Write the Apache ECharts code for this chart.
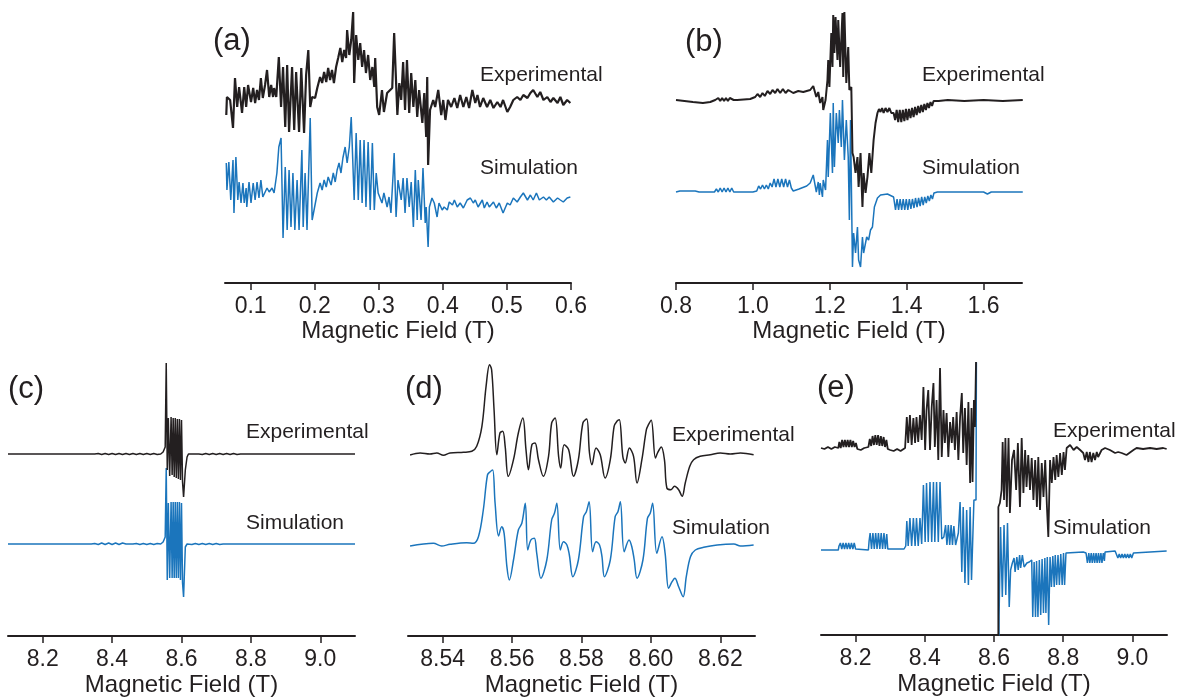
<!DOCTYPE html>
<html>
<head>
<meta charset="utf-8">
<title>EPR spectra</title>
<script src="https://cdn.jsdelivr.net/npm/echarts@6/dist/echarts.min.js"></script>
<style>
  html, body { margin: 0; padding: 0; background: #fff; }
  #chart { width: 1180px; height: 700px; }
</style>
</head>
<body>
<div id="chart"></div>
<script>
// field in T, intensity in a.u. relative to each trace's own baseline

// (a) 0.06 - 0.6 T
var expA = [[0.062,-12],[0.063,6],[0.068,3],[0.0725,-25],[0.0756,25],[0.079,-4],[0.082,16],[0.0866,-10],[0.090,16],[0.093,-4],[0.096,18],[0.1006,1],[0.104,15],[0.107,0],[0.110,13],[0.113,3],[0.116,25],[0.119,5],[0.1225,18],[0.1256,33],[0.129,6],[0.132,18],[0.135,6],[0.1366,15],[0.140,6],[0.144,46],[0.1475,-4],[0.1506,36],[0.154,-24],[0.157,38],[0.160,-29],[0.1647,36],[0.168,-27],[0.171,31],[0.1756,-29],[0.179,35],[0.1834,-30],[0.1866,28],[0.190,53],[0.193,-4],[0.196,6],[0.2006,5],[0.204,15],[0.2084,26],[0.2116,20],[0.2147,31],[0.218,21],[0.221,35],[0.224,23],[0.227,33],[0.230,20],[0.2334,36],[0.2366,45],[0.240,55],[0.243,41],[0.246,53],[0.249,45],[0.2506,73],[0.254,48],[0.257,63],[0.260,91],[0.2616,20],[0.2647,68],[0.268,43],[0.271,60],[0.274,36],[0.277,53],[0.280,30],[0.2834,48],[0.2866,23],[0.290,36],[0.293,16],[0.2944,45],[0.2975,-4],[0.3006,-12],[0.305,13],[0.308,-9],[0.313,10],[0.316,8],[0.321,15],[0.324,70],[0.329,-12],[0.332,20],[0.335,3],[0.338,41],[0.341,-7],[0.344,43],[0.3475,-10],[0.3506,30],[0.354,-4],[0.357,23],[0.360,-14],[0.363,13],[0.368,-20],[0.371,10],[0.374,-34],[0.3756,26],[0.377,-62],[0.380,-7],[0.385,3],[0.388,-4],[0.3928,13],[0.3975,-12],[0.4006,3],[0.404,-17],[0.408,3],[0.413,-4],[0.418,5],[0.4225,-5],[0.427,8],[0.432,-4],[0.4366,6],[0.441,-5],[0.446,13],[0.4506,0],[0.454,8],[0.458,-4],[0.463,5],[0.469,-4],[0.474,3],[0.479,-5],[0.485,1],[0.490,-4],[0.494,3],[0.5006,-9],[0.505,-4],[0.510,3],[0.516,6],[0.521,3],[0.5256,8],[0.532,5],[0.5366,10],[0.541,13],[0.5475,6],[0.552,11],[0.557,3],[0.563,6],[0.568,1],[0.5725,5],[0.579,0],[0.5834,6],[0.588,-2],[0.594,3],[0.599,0]];
var simA = [[0.062,35],[0.063,8],[0.066,36],[0.069,-2],[0.0725,38],[0.074,-15],[0.077,41],[0.080,-2],[0.082,16],[0.085,-5],[0.088,15],[0.090,-5],[0.093,10],[0.094,-9],[0.0975,16],[0.1006,-5],[0.104,15],[0.107,-2],[0.110,16],[0.113,0],[0.116,18],[0.119,1],[0.1256,10],[0.129,6],[0.1334,10],[0.1366,5],[0.141,25],[0.144,51],[0.1475,60],[0.1506,-40],[0.154,31],[0.157,-32],[0.160,28],[0.163,-29],[0.166,25],[0.169,-32],[0.1725,18],[0.1756,-32],[0.180,48],[0.182,-29],[0.185,25],[0.188,-32],[0.193,80],[0.196,-22],[0.199,-12],[0.204,5],[0.2084,15],[0.2116,8],[0.2147,18],[0.218,11],[0.221,21],[0.2256,13],[0.229,25],[0.232,16],[0.235,28],[0.238,35],[0.241,25],[0.244,40],[0.2475,51],[0.2506,35],[0.254,51],[0.257,81],[0.258,83],[0.2616,-2],[0.2647,65],[0.268,-2],[0.271,58],[0.274,-5],[0.277,58],[0.280,-9],[0.2834,56],[0.2866,-12],[0.290,55],[0.293,-12],[0.296,25],[0.299,5],[0.302,6],[0.305,-5],[0.308,5],[0.313,-9],[0.316,1],[0.319,-15],[0.3225,25],[0.324,45],[0.327,-19],[0.330,18],[0.335,-2],[0.338,20],[0.341,-15],[0.344,20],[0.3475,-9],[0.3506,16],[0.354,-29],[0.357,28],[0.360,-22],[0.3616,18],[0.366,-22],[0.369,30],[0.3725,-25],[0.374,-9],[0.377,-49],[0.379,-9],[0.383,0],[0.3866,-5],[0.391,-19],[0.394,-5],[0.399,-12],[0.402,-9],[0.407,-12],[0.410,-4],[0.415,-7],[0.418,-2],[0.4225,-9],[0.427,-5],[0.432,-10],[0.438,-2],[0.443,0],[0.4475,-5],[0.4506,-2],[0.455,-9],[0.4616,-2],[0.4647,-10],[0.469,-4],[0.4725,-9],[0.479,-4],[0.4834,-10],[0.488,-5],[0.494,-15],[0.5006,-5],[0.505,-7],[0.510,0],[0.516,-4],[0.521,1],[0.5256,5],[0.532,-2],[0.5366,3],[0.541,-2],[0.546,5],[0.5506,-2],[0.557,1],[0.5616,-2],[0.566,1],[0.5725,-4],[0.579,0],[0.5834,-2],[0.588,-4],[0.594,0],[0.599,1]];
var ticksA = [0.1, 0.2, 0.3, 0.4, 0.5, 0.6];

// (b) 0.8 - 1.7 T
var expB = [[0.800,0],[0.844,-2],[0.870,-3],[0.889,-2],[0.902,0],[0.910,2],[0.915,-1],[0.920,2],[0.925,-1],[0.930,2],[0.935,-1],[0.940,2],[0.950,0],[0.959,0],[0.993,1],[1.006,3],[1.012,6],[1.019,3],[1.025,7],[1.031,4],[1.038,9],[1.045,6],[1.051,10],[1.058,7],[1.064,11],[1.071,7],[1.078,11],[1.085,7],[1.092,10],[1.105,7],[1.118,9],[1.131,8],[1.149,10],[1.157,14],[1.165,3],[1.170,8],[1.175,-3],[1.181,3],[1.183,-10],[1.189,0],[1.194,20],[1.196,40],[1.199,13],[1.204,67],[1.207,33],[1.209,85],[1.212,47],[1.215,83],[1.220,40],[1.222,80],[1.227,33],[1.233,87],[1.235,23],[1.238,88],[1.243,17],[1.248,53],[1.251,10],[1.256,13],[1.259,-53],[1.262,-57],[1.267,-73],[1.272,-57],[1.275,-87],[1.280,-53],[1.285,-107],[1.288,-73],[1.293,-93],[1.298,-77],[1.303,-53],[1.308,-73],[1.314,-40],[1.319,-23],[1.324,-13],[1.328,-9],[1.332,-12],[1.336,-8],[1.340,-13],[1.345,-8],[1.350,-12],[1.355,-8],[1.360,-13],[1.366,-13],[1.370,-20],[1.374,-10],[1.378,-22],[1.382,-10],[1.386,-22],[1.390,-10],[1.394,-21],[1.398,-9],[1.402,-20],[1.406,-9],[1.410,-18],[1.414,-8],[1.418,-17],[1.422,-7],[1.426,-15],[1.430,-6],[1.434,-13],[1.438,-5],[1.442,-12],[1.446,-4],[1.450,-10],[1.454,-3],[1.458,-8],[1.462,-2],[1.466,-6],[1.470,-1],[1.475,-3],[1.483,-1],[1.507,0],[1.550,-1],[1.600,0],[1.650,-1],[1.702,0]];
var simB = [[0.800,0],[0.810,1],[0.815,-1],[0.820,1],[0.825,-1],[0.830,1],[0.835,-1],[0.840,1],[0.845,-1],[0.850,1],[0.860,0],[0.900,0],[0.905,3],[0.910,0],[0.915,4],[0.920,0],[0.925,4],[0.930,0],[0.935,4],[0.940,0],[0.945,4],[0.950,0],[0.960,0],[1.000,0],[1.010,1],[1.015,6],[1.020,3],[1.025,7],[1.030,3],[1.035,7],[1.040,3],[1.045,9],[1.050,5],[1.055,13],[1.060,5],[1.065,13],[1.070,5],[1.075,13],[1.080,5],[1.085,13],[1.090,5],[1.095,12],[1.100,4],[1.105,1],[1.120,3],[1.140,6],[1.149,9],[1.157,17],[1.165,0],[1.170,10],[1.173,-3],[1.175,9],[1.181,-5],[1.183,12],[1.189,2],[1.194,52],[1.196,15],[1.2015,79],[1.207,19],[1.209,89],[1.212,25],[1.217,79],[1.222,49],[1.225,82],[1.230,45],[1.233,92],[1.238,32],[1.243,72],[1.248,35],[1.251,-28],[1.254,72],[1.259,-75],[1.262,-41],[1.267,-61],[1.272,-35],[1.275,-68],[1.280,-75],[1.285,-45],[1.288,-61],[1.296,-45],[1.301,-48],[1.306,-38],[1.311,-35],[1.316,-15],[1.324,-6],[1.332,-3],[1.350,-2],[1.366,-5],[1.371,-18],[1.375,-7],[1.379,-18],[1.383,-7],[1.387,-18],[1.391,-7],[1.395,-18],[1.399,-7],[1.403,-18],[1.407,-7],[1.411,-17],[1.415,-7],[1.419,-16],[1.423,-6],[1.427,-15],[1.431,-6],[1.435,-14],[1.439,-5],[1.443,-13],[1.447,-5],[1.451,-11],[1.455,-4],[1.459,-9],[1.463,-3],[1.467,-7],[1.471,-1],[1.480,0],[1.600,0],[1.610,-2],[1.620,0],[1.650,0],[1.702,0]];
var ticksB = [0.8, 1.0, 1.2, 1.4, 1.6];

// (c) 8.1 - 9.1 T
var expC = [[8.100,0],[8.350,0],[8.360,0.5],[8.370,-0.5],[8.380,0.5],[8.390,-0.5],[8.400,0.5],[8.410,-0.5],[8.420,0.5],[8.430,-0.5],[8.440,0.5],[8.450,-0.5],[8.460,0.5],[8.470,-0.5],[8.480,0.5],[8.490,-0.5],[8.500,0.5],[8.510,-0.5],[8.520,0.5],[8.530,-0.5],[8.540,0],[8.547,2],[8.553,7],[8.556,91],[8.559,-16],[8.562,36],[8.566,-22],[8.570,37],[8.573,-21],[8.576,36],[8.579,-23],[8.582,36],[8.585,-24],[8.588,35],[8.591,-25],[8.594,35],[8.597,-26],[8.600,34],[8.603,-28],[8.606,-43],[8.611,-16],[8.616,-3],[8.620,0],[8.650,0],[8.660,-0.5],[8.670,0.5],[8.680,-0.5],[8.690,0.5],[8.700,-0.5],[8.710,0.5],[8.720,-0.5],[8.730,0.5],[8.740,-0.5],[8.750,0.5],[8.760,-0.5],[8.770,0],[9.100,0]];
var simC = [[8.100,0],[8.340,0],[8.350,0.5],[8.360,-0.5],[8.370,1],[8.380,-0.5],[8.390,1],[8.400,-0.5],[8.410,1],[8.420,-0.5],[8.430,1],[8.440,0],[8.460,0],[8.470,0.5],[8.480,-0.5],[8.490,0.5],[8.500,-0.5],[8.510,0.5],[8.520,-0.5],[8.530,0.5],[8.540,0],[8.547,2],[8.553,7],[8.556,76],[8.559,-36],[8.562,41],[8.566,-34],[8.570,42],[8.573,-34],[8.576,42],[8.579,-34],[8.582,42],[8.585,-34],[8.588,42],[8.591,-34],[8.594,42],[8.597,-36],[8.600,41],[8.603,-39],[8.606,-53],[8.611,-3],[8.616,0],[8.620,0.5],[8.630,-0.5],[8.640,0.5],[8.650,-0.5],[8.660,0.5],[8.670,-0.5],[8.680,0.5],[8.690,-0.5],[8.700,0.5],[8.710,-0.5],[8.720,0],[9.100,0]];
var ticksC = [8.2, 8.4, 8.6, 8.8, 9.0];

// (d) 8.53 - 8.63 T
var expD = [[8.5306,-1],[8.5335,1],[8.5363,0],[8.5383,1],[8.5402,-1.3],[8.5421,1],[8.546,1.7],[8.5484,2.7],[8.5498,7.7],[8.5513,27.7],[8.5525,67.7],[8.5535,89.3],[8.5541,84.3],[8.5548,44.3],[8.5556,-0.7],[8.5565,21],[8.5573,22.7],[8.558,7.7],[8.5589,-22.3],[8.5604,-5.7],[8.5618,21],[8.5631,36],[8.5640,4.3],[8.5647,-15.7],[8.5657,9.3],[8.5666,11],[8.5676,-5.7],[8.5690,-22.3],[8.5705,-2.3],[8.5714,31],[8.5724,36],[8.5734,-2.3],[8.5740,-14],[8.5750,9.3],[8.5763,4.3],[8.5777,-22.3],[8.5791,-5.7],[8.5804,31],[8.5815,35],[8.5823,1],[8.5830,-10.7],[8.5842,6],[8.5854,-0.7],[8.5868,-24],[8.5883,-5.7],[8.5894,27.7],[8.5902,32.7],[8.5909,34.3],[8.5919,-2.3],[8.5926,-9],[8.5938,6],[8.5950,-2.3],[8.5960,-29],[8.5974,-5.7],[8.5987,24.3],[8.5993,29.3],[8.6001,33.7],[8.6013,-4],[8.6019,1],[8.6030,7],[8.6039,-5.7],[8.6046,-34],[8.6058,-35.7],[8.6068,-32.3],[8.6080,-35.7],[8.6090,-42.3],[8.6099,-29],[8.6112,-12.3],[8.6123,-5.7],[8.6142,-2.3],[8.6171,-0.7],[8.6200,1],[8.6229,0],[8.6258,1],[8.6296,-0.7]];
var simD = [[8.5306,-1],[8.5373,1.7],[8.5397,-1],[8.5421,0.7],[8.5469,2.3],[8.5488,1.7],[8.5503,8.3],[8.5517,35],[8.5529,70],[8.5537,73.3],[8.5544,75],[8.5551,41.7],[8.5561,9],[8.5570,18.3],[8.5577,11.7],[8.5585,-21.7],[8.5592,-35],[8.5604,-15],[8.5618,15],[8.5628,21.7],[8.5638,41.7],[8.5645,-5],[8.5654,5],[8.5664,6.7],[8.5671,-8.3],[8.5683,-33.3],[8.5700,-15],[8.5714,25],[8.5722,31.7],[8.5729,41.7],[8.5739,-5],[8.5748,3.3],[8.5758,0],[8.5765,-10],[8.5775,-31.7],[8.5791,-15],[8.5806,28.3],[8.5814,33.3],[8.5822,43.3],[8.5832,-6.7],[8.5842,3.3],[8.5852,0],[8.5859,-11.7],[8.5866,-31.7],[8.5883,-15],[8.5897,28.3],[8.5905,33.3],[8.5912,43.3],[8.5923,-6.7],[8.5937,5],[8.5945,-1.7],[8.5952,-15],[8.5960,-33.3],[8.5977,-15],[8.5990,26.7],[8.5998,31.7],[8.6005,41.7],[8.6017,-8.3],[8.6032,8.3],[8.6041,-8.3],[8.6051,-43.3],[8.6061,-36.7],[8.6069,-33.3],[8.6080,-41.7],[8.6093,-51.7],[8.6102,-31.7],[8.6114,-11.7],[8.6128,-5],[8.6152,-2.3],[8.6191,0],[8.6239,1],[8.6258,-1],[8.6296,0]];
var ticksD = [8.54, 8.56, 8.58, 8.60, 8.62];

// (e) 8.1 - 9.1 T, the central line runs off scale (null = gap)
var expE = [[8.100,0],[8.110,-1],[8.120,1],[8.130,-1],[8.140,1],[8.150,0],[8.153,6],[8.157,0],[8.161,8],[8.165,1],[8.169,8],[8.173,1],[8.177,8],[8.181,1],[8.185,8],[8.189,1],[8.193,7],[8.197,1],[8.201,5],[8.205,-1],[8.215,-2],[8.225,0],[8.237,1],[8.241,9],[8.245,2],[8.249,12],[8.253,3],[8.257,13],[8.261,3],[8.265,13],[8.269,2],[8.273,12],[8.277,2],[8.281,11],[8.285,1],[8.289,8],[8.293,-1],[8.300,-2],[8.310,-3],[8.320,-1],[8.330,-3],[8.343,0],[8.348,31],[8.352,5],[8.357,33],[8.362,3],[8.367,30],[8.372,5],[8.376,31],[8.381,6],[8.386,33],[8.391,8],[8.396,61],[8.401,-2],[8.405,38],[8.410,58],[8.415,-2],[8.420,41],[8.425,65],[8.429,1],[8.434,48],[8.439,-12],[8.444,80],[8.449,-9],[8.454,38],[8.458,5],[8.463,35],[8.468,-9],[8.473,26],[8.478,5],[8.482,31],[8.487,-2],[8.492,36],[8.497,-12],[8.502,31],[8.507,55],[8.511,-5],[8.516,40],[8.521,-17],[8.526,46],[8.531,-35],[8.535,40],[8.538,-34],[8.542,48],[8.545,21],[8.548,85],[8.550,300],[8.580,null],[8.6125,-200],[8.6126,-59],[8.617,-55],[8.622,-42],[8.625,6],[8.629,-52],[8.633,10],[8.637,-59],[8.642,10],[8.646,-65],[8.652,-12],[8.658,-2],[8.664,-42],[8.669,5],[8.675,-59],[8.680,10],[8.685,-45],[8.690,-2],[8.694,-39],[8.699,-7],[8.704,-42],[8.709,-10],[8.714,-52],[8.719,-12],[8.724,-59],[8.728,-9],[8.733,-62],[8.738,-15],[8.743,-49],[8.748,-12],[8.753,-59],[8.757,-89],[8.762,-12],[8.767,-35],[8.772,-9],[8.777,-32],[8.781,-7],[8.786,-29],[8.791,-5],[8.796,-27],[8.801,-4],[8.805,-22],[8.810,0],[8.820,3],[8.830,-2],[8.839,1],[8.849,-2],[8.858,-5],[8.863,-12],[8.868,-4],[8.873,-14],[8.877,-4],[8.882,-14],[8.887,-5],[8.892,-12],[8.897,-4],[8.901,-9],[8.911,-2],[8.921,0],[8.935,-2],[8.950,-5],[8.959,-4],[8.969,-5],[8.983,-7],[9.003,-2],[9.012,0],[9.031,-1],[9.051,0],[9.070,-1],[9.089,0],[9.099,-1]];
var simE = [[8.100,1],[8.150,1],[8.152,5],[8.156,8],[8.160,2],[8.164,8],[8.168,2],[8.172,8],[8.176,2],[8.180,8],[8.184,2],[8.188,8],[8.192,2],[8.196,8],[8.200,2],[8.203,1],[8.237,1],[8.239,10],[8.242,18],[8.246,2],[8.250,18],[8.254,2],[8.258,18],[8.262,2],[8.266,18],[8.270,2],[8.274,18],[8.278,2],[8.282,18],[8.286,2],[8.290,17],[8.293,2],[8.340,2],[8.345,5],[8.348,30],[8.352,5],[8.357,33],[8.362,5],[8.367,33],[8.372,5],[8.376,33],[8.381,5],[8.386,33],[8.391,7],[8.396,66],[8.401,9],[8.405,68],[8.410,9],[8.415,69],[8.420,9],[8.425,69],[8.429,9],[8.434,69],[8.439,9],[8.444,69],[8.449,12],[8.455,14],[8.460,26],[8.464,6],[8.468,26],[8.472,6],[8.476,26],[8.480,6],[8.484,25],[8.489,6],[8.497,18],[8.502,49],[8.507,-21],[8.511,44],[8.516,-32],[8.521,41],[8.526,-34],[8.531,44],[8.535,-29],[8.542,51],[8.548,51],[8.550,300],[8.580,null],[8.6125,-200],[8.6146,-66],[8.619,24],[8.624,-46],[8.629,26],[8.634,-44],[8.639,28],[8.644,-56],[8.648,-19],[8.653,-12],[8.658,-7],[8.661,-21],[8.666,-6],[8.670,-19],[8.674,-4],[8.677,-17],[8.682,-4],[8.687,-16],[8.695,-12],[8.702,-11],[8.709,-9],[8.712,-66],[8.716,-11],[8.720,-66],[8.723,-10],[8.727,-66],[8.731,-9],[8.735,-64],[8.739,-8],[8.743,-62],[8.747,-7],[8.750,-62],[8.754,-6],[8.758,-74],[8.762,-6],[8.766,-36],[8.770,-5],[8.774,-36],[8.777,-4],[8.781,-34],[8.785,-4],[8.789,-34],[8.793,-3],[8.797,-34],[8.801,-2],[8.804,-34],[8.808,-2],[8.812,-1],[8.858,-1],[8.866,-2],[8.870,-12],[8.874,-2],[8.877,-12],[8.881,-2],[8.884,-12],[8.888,-2],[8.891,-12],[8.895,-2],[8.898,-12],[8.902,-2],[8.905,-12],[8.909,-2],[8.912,-12],[8.916,-2],[8.919,-10],[8.921,-1],[8.950,0],[8.954,-2],[8.958,-7],[8.962,-3],[8.966,-7],[8.970,-3],[8.974,-7],[8.978,-3],[8.982,-7],[8.986,-3],[8.990,-7],[8.994,-3],[8.998,-7],[9.003,-2],[9.007,0],[9.099,0]];
var ticksE = [8.2, 8.4, 8.6, 8.8, 9.0];

var BLACK = '#231f20';
var BLUE = '#1b75bc';
var FONT = '"Liberation Sans", Helvetica, Arial, sans-serif';

// layout of each panel (px) and vertical offsets of the two traces
var panels = [
  { tag: '(a)', exp: expA, sim: simA, ticks: ticksA, min: 0.06, max: 0.6, dec: 1, nameGap: 34,
    grid: { left: 225, top: 0, width: 346, height: 283 }, expOff: 180, simOff: 85, expW: 2.2, simW: 1.5, smooth: false,
    tagPos: [213, 41], labPos: [480, 75, 168] },
  { tag: '(b)', exp: expB, sim: simB, ticks: ticksB, min: 0.8, max: 1.7, dec: 1, nameGap: 34,
    grid: { left: 676, top: 0, width: 346, height: 283 }, expOff: 183, simOff: 91, expW: 2, simW: 1.5, smooth: false,
    tagPos: [685, 42], labPos: [922, 75, 168] },
  { tag: '(c)', exp: expC, sim: simC, ticks: ticksC, min: 8.1, max: 9.1, dec: 1, nameGap: 37,
    grid: { left: 8, top: 360, width: 347, height: 276 }, expOff: 182, simOff: 92, expW: 1.5, simW: 1.5, smooth: false,
    tagPos: [8, 389], labPos: [246, 432, 523] },
  { tag: '(d)', exp: expD, sim: simD, ticks: ticksD, min: 8.53, max: 8.63, dec: 2, nameGap: 37,
    grid: { left: 408, top: 360, width: 347, height: 276 }, expOff: 182, simOff: 91, expW: 1.5, simW: 1.5, smooth: 0.35,
    tagPos: [405, 389], labPos: [672, 435, 528] },
  { tag: '(e)', exp: expE, sim: simE, ticks: ticksE, min: 8.1, max: 9.1, dec: 1, nameGap: 37,
    grid: { left: 821, top: 363, width: 346, height: 272 }, expOff: 187, simOff: 84, expW: 1.8, simW: 1.5, smooth: false,
    tagPos: [817, 388], labPos: [1053, 431, 528] }
];

function shift(arr, off) {
  return arr.map(function (p) { return [p[0], p[1] == null ? null : p[1] + off]; });
}

var grids = [], xAxes = [], yAxes = [], series = [], graphics = [];
panels.forEach(function (p, i) {
  grids.push(p.grid);
  xAxes.push({
    type: 'value', gridIndex: i, min: p.min, max: p.max,
    axisLine: { show: true, onZero: false, lineStyle: { color: BLACK, width: 2 } },
    axisTick: { show: true, length: 7, customValues: p.ticks, lineStyle: { color: BLACK, width: 1.5 } },
    axisLabel: { customValues: p.ticks, margin: 12, color: BLACK, fontSize: 23, fontFamily: FONT,
      formatter: function (v) { return v.toFixed(p.dec); } },
    splitLine: { show: false },
    name: 'Magnetic Field (T)', nameLocation: 'middle', nameGap: p.nameGap,
    nameTextStyle: { color: BLACK, fontSize: 24, fontFamily: FONT }
  });
  yAxes.push({ type: 'value', gridIndex: i, min: 0, max: p.grid.height, show: false });
  series.push({
    type: 'line', xAxisIndex: i, yAxisIndex: i, data: shift(p.sim, p.simOff),
    showSymbol: false, smooth: p.smooth, connectNulls: false, animation: false,
    lineStyle: { color: BLUE, width: p.simW }, z: 2
  }, {
    type: 'line', xAxisIndex: i, yAxisIndex: i, data: shift(p.exp, p.expOff),
    showSymbol: false, smooth: p.smooth, connectNulls: false, animation: false,
    lineStyle: { color: BLACK, width: p.expW }, z: 3
  });
  graphics.push({ type: 'text', x: p.tagPos[0], y: p.tagPos[1],
    style: { text: p.tag, fill: BLACK, font: '31px ' + FONT, verticalAlign: 'middle' } });
  graphics.push({ type: 'text', x: p.labPos[0], y: p.labPos[1],
    style: { text: 'Experimental', fill: BLACK, font: '21px ' + FONT, verticalAlign: 'middle' } });
  graphics.push({ type: 'text', x: p.labPos[0], y: p.labPos[2],
    style: { text: 'Simulation', fill: BLACK, font: '21px ' + FONT, verticalAlign: 'middle' } });
});

var chart = echarts.init(document.getElementById('chart'));
chart.setOption({
  backgroundColor: '#fff',
  animation: false,
  grid: grids,
  xAxis: xAxes,
  yAxis: yAxes,
  series: series,
  graphic: graphics
});
</script>
</body>
</html>
